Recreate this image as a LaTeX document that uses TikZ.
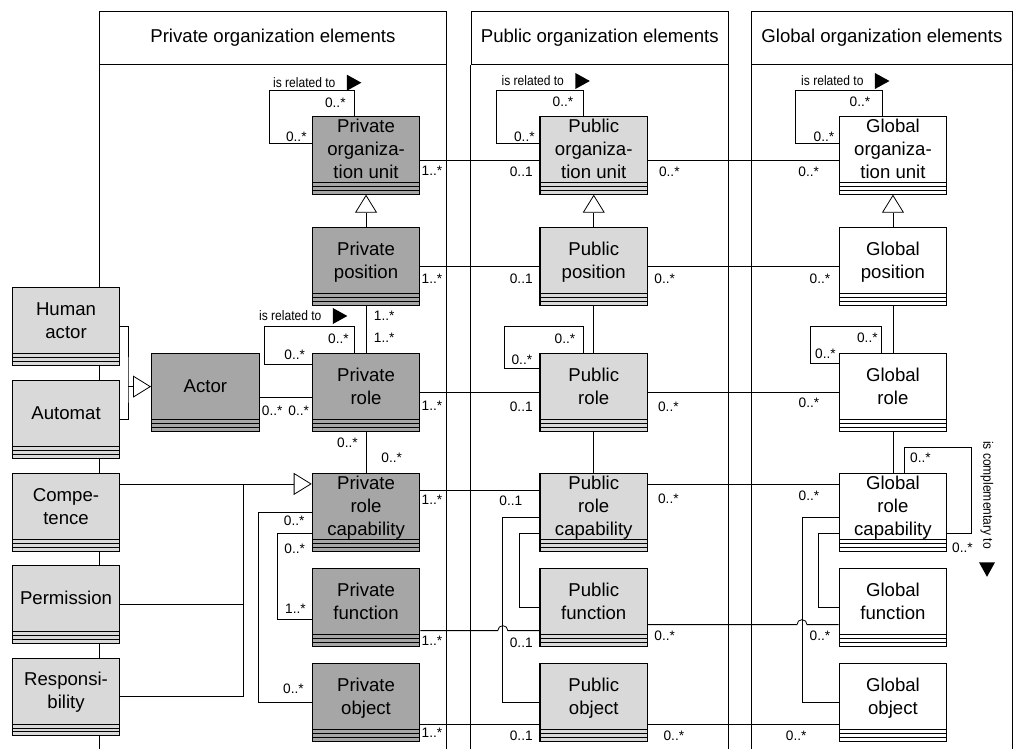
\documentclass[tikz,border=0pt]{standalone}
\usepackage{fontspec}
\setmainfont{Liberation Sans}
\newfontfamily\narrowsf[FakeStretch=0.88]{Liberation Sans}
\usetikzlibrary{arrows.meta}

\definecolor{prvgray}{RGB}{166,166,166}
\definecolor{pubgray}{RGB}{217,217,217}

% class name, three compartments below it
\newcommand{\cname}[1]{\smash{\begin{tabular}{@{}c@{}}#1\end{tabular}}}

\tikzset{
  cls/.style={draw, line width=1.2bp, fill=#1, minimum width=107.5bp, minimum height=77.5bp,
    inner sep=0pt, anchor=north west, font=\fontsize{18.6bp}{23bp}\selectfont,
    path picture={
      \foreach \d in {4,7.7,11.4}
        \draw[line width=0.7bp] ([yshift=\d bp]path picture bounding box.south west)
          -- ([yshift=\d bp]path picture bounding box.south east);
    }},
  lanehead/.style={draw, minimum height=53bp, inner sep=0pt, anchor=north west,
    font=\fontsize{18.6bp}{23bp}\selectfont},
  mult/.style={inner sep=0pt, font=\fontsize{13.7bp}{16bp}\selectfont},
  rel/.style={inner sep=0pt, font=\narrowsf\fontsize{13.7bp}{16bp}\selectfont},
  gen/.style={-{Triangle[length=18bp,width=22bp,fill=white]}},
  reldir/.pic={\fill (0,-8) -- (14.5,0) -- (0,8) -- cycle;},
}

\begin{document}
\begin{tikzpicture}[x=1bp, y=-1bp, line width=0.8bp]
  \useasboundingbox (0,0) rectangle (1013,749);

  % Swimlanes
  \node[lanehead, minimum width=347bp] (prvlane) at (99,11) {Private organization elements};
  \node[lanehead, minimum width=257.3bp] (publane) at (470.7,11) {Public organization elements};
  \node[lanehead, minimum width=261bp] (glblane) at (751,11) {Global organization elements};
  \foreach \l in {prvlane, publane, glblane} {
    \draw (\l.south west) -- ++(0,700);
    \draw (\l.south east) -- ++(0,700);
  }

  % Actors and capabilities
  \node[cls=pubgray] (hact) at (11.7,287) {\cname{Human\\actor}};
  \node[cls=pubgray] (autom) at (11.7,380) {\cname{Automat}};
  \node[cls=pubgray] (compet) at (11.7,473) {\cname{Compe-\\tence}};
  \node[cls=pubgray] (permis) at (11.7,565) {\cname{Permission}};
  \node[cls=pubgray] (respons) at (11.7,657.5) {\cname{Responsi-\\bility}};
  \node[cls=prvgray] (actor) at (151,353) {\cname{Actor}};

  % Private elements
  \node[cls=prvgray] (prvunit) at (311.7,116) {\cname{Private\\organiza-\\tion unit}};
  \node[cls=prvgray] (prvpos) at (311.7,227) {\cname{Private\\position}};
  \node[cls=prvgray] (prvrole) at (311.7,353) {\cname{Private\\role}};
  \node[cls=prvgray] (prvcap) at (311.7,473) {\cname{Private\\role\\capability}};
  \node[cls=prvgray] (prvfunc) at (311.7,568) {\cname{Private\\function}};
  \node[cls=prvgray] (prvobj) at (311.7,663) {\cname{Private\\object}};

  % Public elements
  \node[cls=pubgray] (pubunit) at (539.4,116) {\cname{Public\\organiza-\\tion unit}};
  \node[cls=pubgray] (pubpos) at (539.4,227) {\cname{Public\\position}};
  \node[cls=pubgray] (pubrole) at (539.4,353) {\cname{Public\\role}};
  \node[cls=pubgray] (pubcap) at (539.4,473) {\cname{Public\\role\\capability}};
  \node[cls=pubgray] (pubfunc) at (539.4,568) {\cname{Public\\function}};
  \node[cls=pubgray] (pubobj) at (539.4,663) {\cname{Public\\object}};

  % Global elements
  \node[cls=white] (glbunit) at (838.6,116) {\cname{Global\\organiza-\\tion unit}};
  \node[cls=white] (glbpos) at (838.6,227) {\cname{Global\\position}};
  \node[cls=white] (glbrole) at (838.6,353) {\cname{Global\\role}};
  \node[cls=white] (glbcap) at (838.6,473) {\cname{Global\\role\\capability}};
  \node[cls=white] (glbfunc) at (838.6,568) {\cname{Global\\function}};
  \node[cls=white] (glbobj) at (838.6,663) {\cname{Global\\object}};

  % Generalizations
  \coordinate (actjoin) at ([xshift=-23bp,yshift=5.75bp]actor.west);
  \draw (hact.east) -| (actjoin) |- (autom.east);
  \draw[gen] (actjoin) -- ([yshift=5.75bp]actor.west);
  \coordinate (capjoin) at ([xshift=-68bp,yshift=28.45bp]prvcap.west);
  \draw (permis.east) -| (capjoin);
  \draw (respons.east) -| (capjoin);
  \draw[gen] ([yshift=28.45bp]compet.east) -- ([yshift=28.45bp]prvcap.west);
  \foreach \c in {prv, pub, glb}
    \draw[gen] (\c pos.north) -- (\c unit.south);

  % Vertical associations
  \foreach \c in {prv, pub, glb} {
    \draw (\c pos.south) -- (\c role.north);
    \draw (\c role.south) -- (\c cap.north);
  }

  % Self associations
  \draw ([yshift=11.5bp]prvunit.west) -- ++(-42.7,0) |- ([xshift=-11.5bp,yshift=26bp]prvunit.north) -- ([xshift=-11.5bp]prvunit.north);
  \draw ([yshift=11.5bp]pubunit.west) -- ++(-42.8,0) |- ([xshift=-10.7bp,yshift=26bp]pubunit.north) -- ([xshift=-10.7bp]pubunit.north);
  \draw ([yshift=11.5bp]glbunit.west) -- ++(-43.1,0) |- ([xshift=-11bp,yshift=26bp]glbunit.north) -- ([xshift=-11bp]glbunit.north);
  \draw ([yshift=27.75bp]prvrole.west) -- ++(-47.7,0) |- ([xshift=-11.2bp,yshift=26.3bp]prvrole.north) -- ([xshift=-11.2bp]prvrole.north);
  \draw ([yshift=23.75bp]pubrole.west) -- ++(-34.7,0) |- ([xshift=-10.7bp,yshift=27bp]pubrole.north) -- ([xshift=-10.7bp]pubrole.north);
  \draw ([yshift=28.75bp]glbrole.west) -- ++(-27.8,0) |- ([xshift=-11.3bp,yshift=26.3bp]glbrole.north) -- ([xshift=-11.3bp]glbrole.north);
  \draw ([yshift=-21bp]glbcap.east) -- ++(23.8,0) |- ([xshift=11bp,yshift=25.7bp]glbcap.north) -- ([xshift=11bp]glbcap.north);

  % Capability to function and object
  \draw ([yshift=-21.25bp]prvcap.west) -- ++(-34.7,0) |- ([yshift=-12bp]prvfunc.west);
  \draw (prvcap.west) -- ++(-53.4,0) |- (prvobj.west);
  \foreach \c in {pub, glb} {
    \draw ([yshift=-21bp]\c cap.west) -- ++(-20,0) |- (\c func.west);
    \draw ([yshift=-5bp]\c cap.west) -- ++(-36.6,0) |- (\c obj.west);
  }

  % Horizontal associations
  \draw ([yshift=-5.25bp]prvunit.east) -- ([yshift=-5.25bp]pubunit.west);
  \draw ([yshift=-5.25bp]pubunit.east) -- ([yshift=-5.25bp]glbunit.west);
  \draw (prvpos.east) -- (pubpos.west);
  \draw (pubpos.east) -- (glbpos.west);
  \draw ([yshift=-5.25bp]actor.east) -- ([yshift=-5.25bp]prvrole.west);
  \draw (prvrole.east) -- (pubrole.west);
  \draw (pubrole.east) -- (glbrole.west);
  \draw ([yshift=22.45bp]prvcap.east) -- ([yshift=22.45bp]pubcap.west);
  \draw ([yshift=28.45bp]pubcap.east) -- ([yshift=28.45bp]glbcap.west);
  \draw ([yshift=-23.25bp]prvfunc.east) -- ([xshift=-41.6bp,yshift=-23.25bp]pubfunc.west)
    arc[start angle=180, end angle=360, radius=5] -- ([yshift=-23.25bp]pubfunc.west);
  \draw ([yshift=-17.25bp]pubfunc.east) -- ([xshift=-41.6bp,yshift=-17.25bp]glbfunc.west)
    arc[start angle=180, end angle=360, radius=5] -- ([yshift=-17.25bp]glbfunc.west);
  \draw ([yshift=-22.25bp]prvobj.east) -- ([yshift=-22.25bp]pubobj.west);
  \draw ([yshift=-22.25bp]pubobj.east) -- ([yshift=-22.25bp]glbobj.west);

  % Role names
  \node[rel] (prvunitrel) at (304.3,82.7) {is related to};
  \node[rel] (pubunitrel) at (532.8,81) {is related to};
  \node[rel] (glbunitrel) at (832.4,81) {is related to};
  \node[rel] (prvrolerel) at (290.3,316) {is related to};
  \node[rel, rotate=-90] (glbcomp) at (987,495) {is complementary to};
  \foreach \r in {prvunitrel, pubunitrel, glbunitrel, prvrolerel}
    \pic at ([xshift=11bp]\r.east) {reldir};
  \pic[rotate=-90] at ([yshift=-13bp]glbcomp.east) {reldir};

  % Multiplicities
  \foreach \x/\y/\m [count=\i] in {
      432/171.2/1..*, 521.3/171.7/0..1, 669.3/171.7/0..*, 808.7/171.7/0..*,
      335.3/102.5/0..*, 296.3/136.7/0..*, 563/102/0..*, 524.4/137/0..*, 860/102/0..*, 824/137/0..*,
      432/278.3/1..*, 521.3/279/0..1, 664.7/279/0..*, 820/279/0..*,
      384.2/315.8/1..*, 384.2/337.5/1..*,
      338.5/338.5/0..*, 294.7/355/0..*, 272.2/411/0..*, 298.7/411/0..*,
      432/405.8/1..*, 521.3/406.7/0..1, 668.4/406.7/0..*, 809/403/0..*,
      565/338.5/0..*, 521.9/359.5/0..*, 867.4/338/0..*, 825.5/354/0..*,
      347.5/442.5/0..*, 391.7/457.8/0..*,
      432/500.2/1..*, 510.9/500.5/0..1, 668.4/498.3/0..*, 809/495.8/0..*,
      294.7/548.3/0..*, 295.5/608.3/1..*, 294.2/521.2/0..*, 293.5/689.2/0..*,
      920.5/458/0..*, 962.5/547.5/0..*,
      432/640.8/1..*, 521.3/642.5/0..1, 664.7/635.8/0..*, 820/636/0..*,
      432/732.5/1..*, 521.3/735.8/0..1, 673.9/735.8/0..*, 796.2/735.8/0..*}
    \node[mult] (mult\i) at (\x,\y) {\m};
\end{tikzpicture}
\end{document}
